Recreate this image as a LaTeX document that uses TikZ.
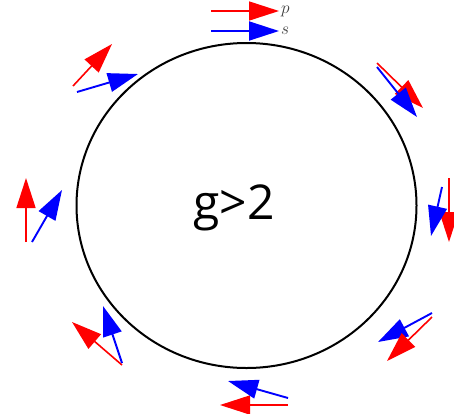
\documentclass[tikz,border=0pt]{standalone}
\usepackage{fontspec}
\newfontfamily\gfont{Open Sans}
\usetikzlibrary{arrows.meta,positioning,shapes}

\tikzset{
  pvec/.style={red,line width=1.6pt,-{Triangle[length=30pt,width=19pt]}},
  svec/.style={blue,line width=1.9pt,-{Triangle[length=30pt,width=19pt]}},
  orbit/.style={draw,ellipse,line width=2pt,minimum width=340pt,minimum height=325pt,inner sep=0pt}
}

\begin{document}
\begin{tikzpicture}[x=1pt,y=-1pt]
\useasboundingbox (0,0) rectangle (454,413);
\node[orbit] (ring) at (246.5,205.5) {};
\node[font=\gfont\fontsize{48}{50}\selectfont] (g) at (234,208) {g>2};

\coordinate (p0a) at (211,11);  \coordinate (p0b) at (279,11);
\coordinate (s0a) at (211,31);  \coordinate (s0b) at (279,31);
\node[right=2pt of p0b,font=\fontsize{16}{16}\selectfont,inner sep=0pt,text=black!75] (plab) {$p$};
\node[right=2pt of s0b,font=\fontsize{16}{16}\selectfont,inner sep=0pt,text=black!75] (slab) {$s$};
\draw[pvec] (p0a) -- (p0b);
\draw[svec] (s0a) -- (s0b);

\coordinate (p1a) at (377,63);  \coordinate (p1b) at (423,108);
\coordinate (s1a) at (377,67);  \coordinate (s1b) at (417,117);
\draw[pvec] (p1a) -- (p1b);
\draw[svec] (s1a) -- (s1b);

\coordinate (p2a) at (449,178); \coordinate (p2b) at (449,242);
\coordinate (s2a) at (442,187); \coordinate (s2b) at (431,236);
\draw[pvec] (p2a) -- (p2b);
\draw[svec] (s2a) -- (s2b);

\coordinate (p3a) at (432,313); \coordinate (p3b) at (378,342);
\coordinate (s3a) at (432,317); \coordinate (s3b) at (387,361);
\draw[svec] (p3a) -- (p3b);
\draw[pvec] (s3a) -- (s3b);

\coordinate (p4a) at (288,405); \coordinate (p4b) at (220,405);
\coordinate (s4a) at (288,398); \coordinate (s4b) at (228,381);
\draw[pvec] (p4a) -- (p4b);
\draw[svec] (s4a) -- (s4b);

\coordinate (p5a) at (122,365); \coordinate (p5b) at (72,322);
\coordinate (s5a) at (122,363); \coordinate (s5b) at (103,306);
\draw[pvec] (p5a) -- (p5b);
\draw[svec] (s5a) -- (s5b);

\coordinate (p6a) at (26,242);  \coordinate (p6b) at (26,178);
\coordinate (s6a) at (32,242);  \coordinate (s6b) at (62,190);
\draw[pvec] (p6a) -- (p6b);
\draw[svec] (s6a) -- (s6b);

\coordinate (p7a) at (73,86);   \coordinate (p7b) at (112,44);
\coordinate (s7a) at (77,92);   \coordinate (s7b) at (138,74);
\draw[pvec] (p7a) -- (p7b);
\draw[svec] (s7a) -- (s7b);
\end{tikzpicture}
\end{document}
